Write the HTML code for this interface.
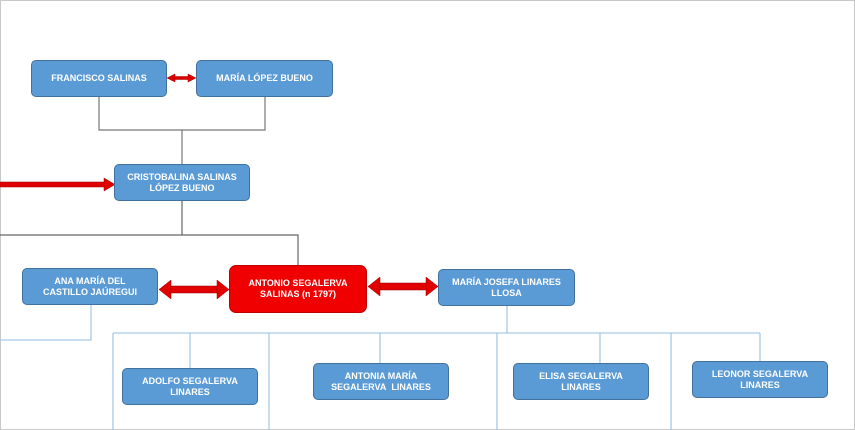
<!DOCTYPE html>
<html><head><meta charset="utf-8"><style>
body{margin:0;width:855px;height:430px;background:#fff;position:relative;overflow:hidden;font-family:"Liberation Sans",sans-serif}
.b{position:absolute;background:#5b9bd5;border:1px solid #41719c;border-radius:5px;color:#fff;font-weight:bold;font-size:9px;display:flex;align-items:center;justify-content:center;text-align:center;line-height:11px;box-sizing:border-box}
svg{position:absolute;left:0;top:0}
</style></head><body>
<svg width="855" height="430">
<rect x="0.5" y="0.5" width="854" height="429" fill="none" stroke="#c8c8c8"/>
<g stroke="#777" stroke-width="1.2" fill="none">
<path d="M99 97V130H265V97M182 130V164"/>
<path d="M182 201V235M0 235H298V265" stroke="#666"/>
</g>
<g stroke="#a9c9e6" stroke-width="1.3" fill="none">
<path d="M91 305V340H0"/>
<path d="M507 306V333M113 333H760M113 333V430M269 333V430M497 333V430M671 333V430M190 333V368M380 333V363M600 333V363M760 333V361"/>
</g>
<g fill="#e00000" stroke="#a00000" stroke-width="0.5">
<rect x="0" y="182" width="104" height="5"/>
<polygon points="104,178 115,184.5 104,191"/>
<rect x="174" y="76.5" width="16" height="3"/>
<polygon points="167,78 175,74 175,82"/>
<polygon points="196,78 188,74 188,82"/>
<rect x="170" y="286" width="48" height="7"/>
<polygon points="159,289.5 171,280 171,299"/>
<polygon points="229,289.5 217,280 217,299"/>
<rect x="379" y="283" width="48" height="7"/>
<polygon points="368,286.5 380,277 380,296"/>
<polygon points="438,286.5 426,277 426,296"/>
</g>
</svg>
<div class="b" style="left:31px;top:60px;width:136px;height:37px">FRANCISCO SALINAS</div>
<div class="b" style="left:196px;top:60px;width:137px;height:37px">MARÍA LÓPEZ BUENO</div>
<div class="b" style="left:114px;top:164px;width:136px;height:37px">CRISTOBALINA SALINAS<br>LÓPEZ BUENO</div>
<div class="b" style="left:22px;top:268px;width:136px;height:37px">ANA MARÍA DEL<br>CASTILLO JAÚREGUI</div>
<div class="b" style="left:229px;top:265px;width:138px;height:48px;background:#f00000;border-color:#c00000;border-radius:7px">ANTONIO SEGALERVA<br>SALINAS (n 1797)</div>
<div class="b" style="left:438px;top:269px;width:137px;height:37px">MARÍA JOSEFA LINARES<br>LLOSA</div>
<div class="b" style="left:122px;top:368px;width:136px;height:37px">ADOLFO SEGALERVA<br>LINARES</div>
<div class="b" style="left:313px;top:363px;width:136px;height:37px">ANTONIA MARÍA<br>SEGALERVA&nbsp; LINARES</div>
<div class="b" style="left:513px;top:363px;width:136px;height:37px">ELISA SEGALERVA<br>LINARES</div>
<div class="b" style="left:692px;top:361px;width:136px;height:37px">LEONOR SEGALERVA<br>LINARES</div>
</body></html>
